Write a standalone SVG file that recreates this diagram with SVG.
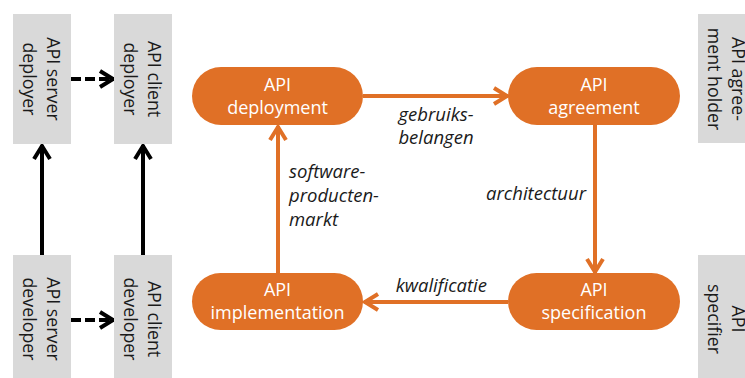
<svg xmlns="http://www.w3.org/2000/svg" width="745" height="378" viewBox="0 0 745 378">
  <defs>
    <style>
      .role { fill: #d9d9d9; }
      .role-text { font-family: "Open Sans", "Liberation Sans", sans-serif; font-size: 17.8px; fill: #1a1a1a; text-anchor: middle; }
      .phase { fill: #e07026; }
      .phase-text { font-family: "Open Sans", "Liberation Sans", sans-serif; font-size: 18px; fill: #ffffff; text-anchor: middle; }
      .label { font-family: "Open Sans", "Liberation Sans", sans-serif; font-size: 18.5px; font-style: italic; fill: #1a1a1a; }
      .flow { fill: none; stroke: #e07026; stroke-width: 4; }
      .dep { fill: none; stroke: #000000; stroke-width: 4; }
      .dashed { stroke-dasharray: 10 4; }
    </style>
    <marker id="head-orange" markerUnits="userSpaceOnUse" markerWidth="22" markerHeight="22" viewBox="-18 -11 22 22" refX="0" refY="0" orient="auto">
      <path d="M-14,-8 L-1,0 L-14,8" fill="none" stroke="#e07026" stroke-width="4" stroke-linejoin="miter"/>
    </marker>
    <marker id="head-black" markerUnits="userSpaceOnUse" markerWidth="22" markerHeight="22" viewBox="-18 -11 22 22" refX="0" refY="0" orient="auto">
      <path d="M-14,-8 L-1,0 L-14,8" fill="none" stroke="#000000" stroke-width="4" stroke-linejoin="miter"/>
    </marker>
  </defs>

  <!-- connectors -->
  <g id="connectors">
    <path class="flow" d="M363,96 H508" marker-end="url(#head-orange)"/>
    <path class="flow" d="M595,125 V273" marker-end="url(#head-orange)"/>
    <path class="flow" d="M508,302 H364" marker-end="url(#head-orange)"/>
    <path class="flow" d="M278,273 V126" marker-end="url(#head-orange)"/>
    <path class="dep dashed" d="M71,79 H114" marker-end="url(#head-black)"/>
    <path class="dep dashed" d="M71,320 H114" marker-end="url(#head-black)"/>
    <path class="dep" d="M42,255 V145" marker-end="url(#head-black)"/>
    <path class="dep" d="M143,255 V145" marker-end="url(#head-black)"/>
  </g>

  <!-- edge labels -->
  <g id="labels">
    <text class="label" x="436" y="121" text-anchor="middle">gebruiks-</text>
    <text class="label" x="436" y="144" text-anchor="middle">belangen</text>
    <text class="label" x="289" y="178">software-</text>
    <text class="label" x="289" y="202">producten-</text>
    <text class="label" x="289" y="226">markt</text>
    <text class="label" x="586" y="200" text-anchor="end">architectuur</text>
    <text class="label" x="487" y="292" text-anchor="end">kwalificatie</text>
  </g>

  <!-- lifecycle phases -->
  <g id="api-deployment">
    <rect class="phase" x="192" y="67" width="171" height="58" rx="29"/>
    <text class="phase-text" x="277.5" y="91">API</text>
    <text class="phase-text" x="277.5" y="114">deployment</text>
  </g>
  <g id="api-agreement">
    <rect class="phase" x="508" y="67" width="172" height="58" rx="29"/>
    <text class="phase-text" x="594" y="91">API</text>
    <text class="phase-text" x="594" y="114">agreement</text>
  </g>
  <g id="api-implementation">
    <rect class="phase" x="192" y="273" width="171" height="57" rx="28.5"/>
    <text class="phase-text" x="277.5" y="296">API</text>
    <text class="phase-text" x="277.5" y="319">implementation</text>
  </g>
  <g id="api-specification">
    <rect class="phase" x="508" y="273" width="172" height="57" rx="28.5"/>
    <text class="phase-text" x="594" y="296">API</text>
    <text class="phase-text" x="594" y="319">specification</text>
  </g>

  <!-- roles -->
  <g id="api-server-deployer">
    <rect class="role" x="13" y="14" width="58" height="130"/>
    <g transform="translate(42,79) rotate(90)">
      <text class="role-text" x="0" y="-5">API server</text>
      <text class="role-text" x="0" y="19.5">deployer</text>
    </g>
  </g>
  <g id="api-client-deployer">
    <rect class="role" x="114" y="14" width="58" height="130"/>
    <g transform="translate(143,79) rotate(90)">
      <text class="role-text" x="0" y="-5">API client</text>
      <text class="role-text" x="0" y="19.5">deployer</text>
    </g>
  </g>
  <g id="api-server-developer">
    <rect class="role" x="13" y="255" width="58" height="130"/>
    <g transform="translate(42,319) rotate(90)">
      <text class="role-text" x="0" y="-5">API server</text>
      <text class="role-text" x="0" y="19.5">developer</text>
    </g>
  </g>
  <g id="api-client-developer">
    <rect class="role" x="114" y="255" width="58" height="130"/>
    <g transform="translate(143,319) rotate(90)">
      <text class="role-text" x="0" y="-5">API client</text>
      <text class="role-text" x="0" y="19.5">developer</text>
    </g>
  </g>
  <g id="api-agreement-holder">
    <rect class="role" x="698" y="14" width="58" height="129"/>
    <g transform="translate(727,79) rotate(90)">
      <text class="role-text" x="0" y="-5">API agree-</text>
      <text class="role-text" x="0" y="19.5">ment holder</text>
    </g>
  </g>
  <g id="api-specifier">
    <rect class="role" x="698" y="255" width="58" height="130"/>
    <g transform="translate(727,319) rotate(90)">
      <text class="role-text" x="0" y="-5">API</text>
      <text class="role-text" x="0" y="19.5">specifier</text>
    </g>
  </g>
</svg>
